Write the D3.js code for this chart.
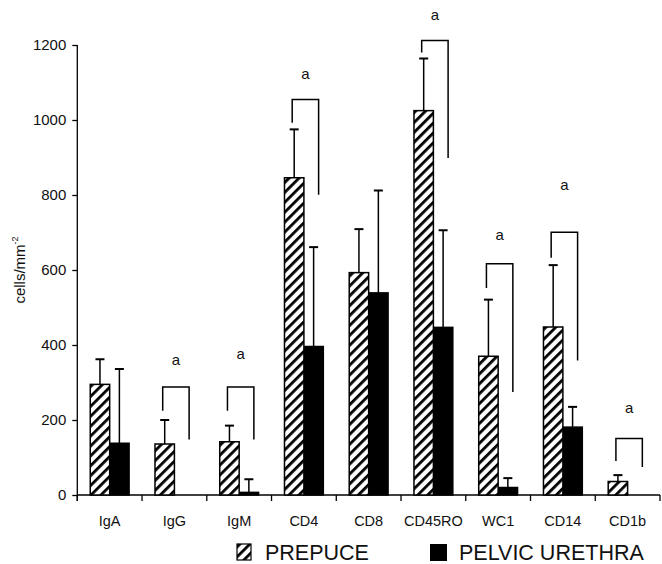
<!DOCTYPE html>
<html><head><meta charset="utf-8">
<script src="https://cdn.jsdelivr.net/npm/d3@7"></script>
<style>body{margin:0;background:#fff}svg{display:block;font-family:"Liberation Sans",Arial,sans-serif}</style>
</head><body>
<svg id="c" width="662" height="564"></svg>
<script>
const categories = ["IgA","IgG","IgM","CD4","CD8","CD45RO","WC1","CD14","CD1b"];
const prepuce      = [295, 136, 142, 846, 593, 1025, 370, 448, 36];
const prepuceErr   = [362, 200, 185, 975, 709, 1164, 521, 613, 53];
const urethra      = [138, 0, 7, 396, 539, 447, 20, 181, 0];
const urethraErr   = [336, null, 42, 661, 812, 706, 45, 235, null];
const bracketTop   = [null, 288, 288, 1055, null, 1212, 617, 701, 151];
const bracketLeft  = [null, 225, 225, 993, null, 1180, 552, 633, 91];
const bracketRight = [null, 148, 148, 801, null, 899, 275, 359, 75];
const sigLabelAt   = [null, 360, 376, 1124, null, 1280, 693, 827, 232];
const yTicks = [0, 200, 400, 600, 800, 1000, 1200];
const seriesNames = ["PREPUCE", "PELVIC URETHRA"];

const svg = d3.select("#c");
const defs = svg.append("defs");
const pat = defs.append("pattern").attr("id","hatch").attr("patternUnits","userSpaceOnUse")
  .attr("width",7).attr("height",7).attr("patternTransform","rotate(45)");
pat.append("rect").attr("width",7).attr("height",7).attr("fill","#fff");
pat.append("rect").attr("x",0).attr("y",0).attr("width",2.8).attr("height",7).attr("fill","#000");

const x = d3.scaleBand().domain(categories).range([77.3, 660]).paddingInner(0.4).paddingOuter(0.2);
const xs = d3.scaleBand().domain(seriesNames).range([0, x.bandwidth()]);
const y = d3.scaleLinear().domain([0, 1200]).range([495, 45]);
const step = x.step();

// y axis
const yAxis = svg.append("g").attr("transform","translate(77.3,0)")
  .call(d3.axisLeft(y).tickValues(yTicks).tickFormat(d3.format("d")).tickSize(5).tickSizeOuter(0).tickPadding(6));
yAxis.select(".domain").attr("d", `M0,${y(1200)}V${y(0)+6}`).attr("stroke","#000").attr("stroke-width",1.3);
yAxis.selectAll(".tick line").attr("stroke","#000").attr("stroke-width",1.3);
yAxis.selectAll(".tick text").attr("font-size",15).attr("fill","#111")
  .attr("font-family","\"Liberation Sans\",Arial,sans-serif");

// x axis
const xAxis = svg.append("g").attr("transform",`translate(0,${y(0)})`);
xAxis.append("line").attr("x1",77.3).attr("x2",660).attr("stroke","#000").attr("stroke-width",1.3);
d3.range(categories.length + 1).forEach(i => {
  const xp = 77.3 + i*step;
  xAxis.append("line").attr("x1",xp).attr("x2",xp).attr("y1",0).attr("y2",6).attr("stroke","#000").attr("stroke-width",1.3);
});
xAxis.selectAll("text.cat").data(categories).join("text").attr("class","cat")
  .attr("x", d => x(d) + x.bandwidth()/2).attr("y", 31).attr("text-anchor","middle")
  .attr("font-size",14.5).attr("fill","#111").text(d => d);

// y label
svg.append("text").attr("transform","translate(25,270) rotate(-90)").attr("text-anchor","middle")
  .attr("font-size",15).attr("fill","#111")
  .html('cells/mm<tspan dy="-7" font-size="9">-2</tspan>');

// bars
const data = categories.map((c,i) => ({c, i}));
const g = svg.append("g");
function drawBars(vals, errs, name, fill){
  const bx = d => x(d.c) + xs(name);
  const bw = xs.bandwidth();
  g.selectAll(null).data(data.filter(d => errs[d.i] != null)).join("g").each(function(d){
    const gg = d3.select(this);
    const cx = bx(d) + bw/2;
    gg.append("line").attr("x1",cx).attr("x2",cx).attr("y1",y(vals[d.i])).attr("y2",y(errs[d.i])).attr("stroke","#000").attr("stroke-width",1.5);
    gg.append("line").attr("x1",cx-4.5).attr("x2",cx+4.5).attr("y1",y(errs[d.i])).attr("y2",y(errs[d.i])).attr("stroke","#000").attr("stroke-width",2);
  });
  g.selectAll(null).data(data.filter(d => vals[d.i] > 0)).join("rect")
    .attr("x", bx).attr("width", bw)
    .attr("y", d => y(vals[d.i])).attr("height", d => y(0) - y(vals[d.i]))
    .attr("fill", fill).attr("stroke","#000").attr("stroke-width",1.5);
}
drawBars(urethra, urethraErr, "PELVIC URETHRA", "#000");
drawBars(prepuce, prepuceErr, "PREPUCE", "url(#hatch)");

// significance brackets
data.filter(d => bracketTop[d.i] != null).forEach(d => {
  const lx = x(d.c) + xs("PREPUCE") + xs.bandwidth()/2 - 2;
  const rx = x(d.c) + xs("PELVIC URETHRA") + xs.bandwidth()/2 + 5;
  g.append("path").attr("d", `M${lx},${y(bracketLeft[d.i])}V${y(bracketTop[d.i])}H${rx}V${y(bracketRight[d.i])}`)
    .attr("fill","none").attr("stroke","#000").attr("stroke-width",1.5);
  g.append("text").attr("x", (lx+rx)/2).attr("y", y(sigLabelAt[d.i]) + 5).attr("text-anchor","middle")
    .attr("font-size",15).attr("fill","#111").text("a");
});

// legend
const leg = svg.append("g");
leg.append("rect").attr("x",237).attr("y",544).attr("width",14).attr("height",16).attr("fill","url(#hatch)").attr("stroke","#000").attr("stroke-width",1.2);
leg.append("text").attr("x",265).attr("y",560).attr("font-size",21.5).attr("fill","#111").text(seriesNames[0]);
leg.append("rect").attr("x",430).attr("y",544).attr("width",17).attr("height",17).attr("fill","#000");
leg.append("text").attr("x",459).attr("y",560).attr("font-size",21.5).attr("fill","#111").text(seriesNames[1]);
</script>
</body></html>
